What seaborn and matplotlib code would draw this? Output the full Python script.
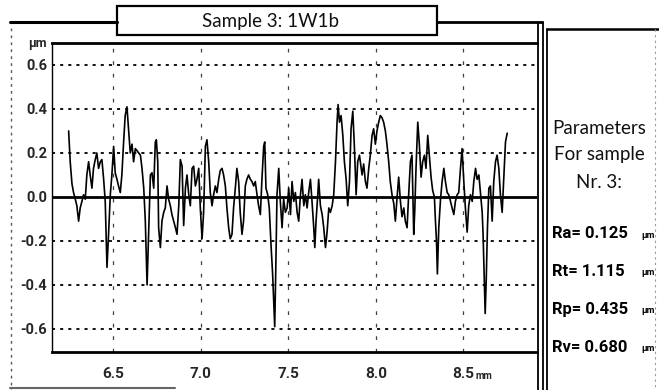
import matplotlib
matplotlib.use("Agg")

import numpy as np
import pandas as pd
import matplotlib.pyplot as plt
import seaborn as sns
from matplotlib.lines import Line2D
from matplotlib.patches import Rectangle

sns.set_style("white")
plt.rcParams["font.family"] = ["DejaVu Sans"]

# profile (x in mm, height in um)
profile_x_mm = [
    6.245, 6.254, 6.264, 6.273, 6.283, 6.292, 6.302, 6.311, 6.321, 6.330, 6.340, 6.349, 6.359, 6.368,
    6.378, 6.387, 6.397, 6.406, 6.416, 6.426, 6.435, 6.445, 6.454, 6.464, 6.473, 6.483, 6.492, 6.502,
    6.511, 6.521, 6.530, 6.540, 6.549, 6.559, 6.568, 6.578, 6.587, 6.597, 6.607, 6.616, 6.626,
    6.645, 6.655, 6.664, 6.674, 6.683, 6.693, 6.702, 6.712, 6.721, 6.731, 6.740, 6.746, 6.754, 6.759,
    6.769, 6.778, 6.788, 6.797, 6.807, 6.816, 6.826, 6.835, 6.845, 6.855, 6.864, 6.874, 6.883, 6.893,
    6.902, 6.912, 6.921, 6.931, 6.940, 6.950, 6.959, 6.969, 6.978, 6.988, 6.997, 7.007, 7.016, 7.026,
    7.035, 7.045, 7.054,
    7.064, 7.073, 7.083, 7.092, 7.102, 7.111, 7.121, 7.130, 7.140, 7.149, 7.159, 7.168, 7.178, 7.187,
    7.197, 7.206, 7.216, 7.225, 7.235, 7.244, 7.254, 7.263, 7.273, 7.283, 7.292, 7.302, 7.311, 7.321,
    7.330, 7.340, 7.349, 7.359, 7.365, 7.372, 7.382, 7.391, 7.401, 7.410, 7.416, 7.422, 7.427, 7.435,
    7.445, 7.454, 7.464, 7.473, 7.483,
    7.493, 7.502, 7.512, 7.521, 7.531, 7.540, 7.550, 7.559, 7.569, 7.578, 7.588, 7.597, 7.607, 7.616,
    7.626, 7.635, 7.645, 7.651, 7.658, 7.668, 7.673, 7.683, 7.693, 7.702, 7.712, 7.721, 7.731, 7.740,
    7.750, 7.759, 7.769, 7.778, 7.784, 7.792, 7.801, 7.811, 7.820, 7.830, 7.839, 7.849, 7.858, 7.868,
    7.877, 7.887, 7.896, 7.906,
    7.911, 7.921, 7.930, 7.940, 7.949, 7.959, 7.968, 7.978, 7.987, 7.997, 8.006, 8.016, 8.025, 8.035,
    8.044, 8.054, 8.063, 8.073, 8.082, 8.092, 8.102, 8.111, 8.121, 8.130, 8.140, 8.149, 8.159, 8.168,
    8.178, 8.187, 8.197, 8.206, 8.216, 8.222, 8.229, 8.239, 8.248, 8.258, 8.267, 8.277, 8.286, 8.296,
    8.305, 8.315, 8.324, 8.334,
    8.340, 8.346, 8.351, 8.359, 8.369, 8.378, 8.388, 8.397, 8.407, 8.416, 8.426, 8.435, 8.445, 8.454,
    8.464, 8.473, 8.483, 8.492, 8.502, 8.511, 8.521, 8.530, 8.540, 8.550, 8.559, 8.569, 8.578, 8.588,
    8.597, 8.607, 8.612, 8.618, 8.624, 8.630, 8.637, 8.645, 8.654, 8.664, 8.673, 8.683, 8.692, 8.702,
    8.711, 8.721, 8.730, 8.740, 8.750,
]
profile_z_um = [
    0.30, 0.16, 0.06, 0.02, -0.01, -0.04, -0.11, -0.05, -0.02, 0.01, -0.01, 0.10, 0.16, 0.10,
    0.04, 0.13, 0.17, 0.20, 0.13, 0.16, 0.17, 0.08, -0.02, -0.32, -0.17, 0.01, 0.10, 0.23,
    0.11, 0.08, 0.05, 0.02, 0.10, 0.25, 0.37, 0.41, 0.31, 0.20, 0.24, 0.16, 0.22,
    0.20, 0.19, 0.13, 0.04, -0.11, -0.40, -0.17, 0.10, 0.11, 0.04, 0.25, 0.26, 0.16, -0.14,
    -0.23, -0.11, -0.07, -0.05, 0.05, -0.01, -0.04, -0.08, -0.11, -0.14, -0.17, -0.04, 0.17, 0.14,
    -0.13, 0.04, 0.10, 0.01, -0.04, 0.13, 0.14, 0.05, 0.08, 0.13, -0.05, -0.19, -0.07, 0.23,
    0.26, 0.16, 0.02,
    -0.04, 0.01, 0.05, 0.02, 0.08, 0.12, 0.13, 0.10, 0.05, -0.05, -0.14, -0.19, -0.17, -0.05,
    0.04, 0.13, 0.07, -0.07, -0.17, -0.11, 0.05, 0.08, 0.10, 0.08, 0.07, 0.05, 0.07, 0.01,
    -0.04, -0.08, 0.08, 0.23, 0.25, 0.04, 0.01, -0.05, -0.22, -0.35, -0.47, -0.59, -0.38, 0.01,
    0.13, -0.02, -0.14, -0.01, -0.07,
    -0.05, 0.04, -0.08, 0.07, -0.02, 0.02, -0.07, -0.11, 0.01, 0.08, -0.04, 0.01, -0.05, 0.02,
    0.08, -0.02, -0.14, -0.23, -0.11, 0.01, 0.08, -0.04, -0.08, -0.14, -0.23, -0.16, -0.05, -0.07,
    -0.04, 0.01, 0.16, 0.34, 0.42, 0.34, 0.37, 0.28, 0.16, 0.08, -0.04, 0.07, 0.31, 0.39,
    0.23, 0.01, 0.16, 0.19,
    0.16, 0.10, 0.15, 0.07, 0.04, 0.13, 0.19, 0.28, 0.31, 0.24, 0.30, 0.34, 0.37, 0.36,
    0.34, 0.30, 0.24, 0.16, 0.07, 0.01, -0.03, -0.11, 0.00, 0.09, -0.02, -0.09, -0.05, -0.11,
    -0.14, 0.01, 0.16, 0.19, -0.17, -0.06, 0.13, 0.34, 0.24, 0.09, 0.16, 0.19, 0.13, 0.28,
    0.19, 0.09, 0.03, 0.00,
    -0.11, -0.20, -0.35, -0.14, -0.01, 0.07, 0.13, 0.07, 0.02, 0.01, -0.02, -0.05, -0.08, -0.02,
    0.01, 0.02, 0.13, 0.22, 0.07, -0.05, -0.16, -0.04, 0.01, -0.02, 0.07, 0.13, 0.08, 0.10,
    0.02, -0.07, -0.17, -0.35, -0.53, -0.38, -0.14, 0.04, 0.05, -0.11, 0.07, 0.16, 0.19, 0.13,
    0.01, -0.07, 0.08, 0.25, 0.29,
]

x_major = [6.5, 7.0, 7.5, 8.0, 8.5]
x_labels = ["6.5", "7.0", "7.5", "8.0", "8.5"]
y_major = [0.6, 0.4, 0.2, 0.0, -0.2, -0.4, -0.6]
y_labels = ["0.6", "0.4", "0.2", "0.0", "-0.2", "-0.4", "-0.6"]

title = "Sample 3: 1W1b"
param_names = ["Ra", "Rt", "Rp", "Rv"]
param_values = [0.125, 1.115, 0.435, 0.680]
side_lines = ["Parameters", "For sample", "Nr. 3:"]

W, H = 659, 390


def fp(x, y):
    # pixel position (from top-left) -> figure fraction
    return x / W, 1 - y / H


fig = plt.figure(figsize=(W / 100, H / 100), dpi=100)
fig.patch.set_facecolor("white")

ax = fig.add_axes([52 / W, 1 - 352 / H, 485 / W, 309 / H])
df = pd.DataFrame({"x": profile_x_mm, "z": profile_z_um})
sns.lineplot(data=df, x="x", y="z", ax=ax, color="black", linewidth=1.2,
             sort=False, estimator=None)

ax.set_xlim(6.15, 8.92)
ax.set_ylim(-0.705, 0.70)
ax.set_xlabel("")
ax.set_ylabel("")

# grid
for yv in y_major:
    if yv == 0:
        ax.axhline(0, color="black", lw=2.0, zorder=3)
    else:
        ax.axhline(yv, color="black", lw=1.3, linestyle=(0, (1.7, 2.8)), zorder=1)
for xv in x_major:
    ax.axvline(xv, color="0.25", lw=0.9, linestyle=(0, (3, 7)), zorder=1)

tickfont = ["Roboto", "DejaVu Sans"]
ax.set_xticks(x_major)
ax.set_xticklabels(x_labels, family=tickfont, fontsize=11, fontweight="bold")
ax.set_xticks(np.arange(6.2, 8.91, 0.1), minor=True)
ax.set_yticks(y_major)
ax.set_yticklabels(y_labels, family=tickfont, fontsize=10.5, fontweight="bold")
ax.set_yticks(np.arange(-0.7, 0.71, 0.1), minor=True)
ax.tick_params(axis="x", which="both", direction="inout", length=8, width=1.1, pad=6)
ax.tick_params(axis="y", which="both", direction="inout", length=5, width=1.0, pad=1)
ax.tick_params(axis="x", which="major", length=10)

ax.spines["right"].set_visible(False)
ax.spines["top"].set_linewidth(2.0)
ax.spines["bottom"].set_linewidth(2.0)
ax.spines["left"].set_linewidth(1.0)
for s in ax.spines.values():
    s.set_color("black")

fig.text(*fp(476, 376), "mm", family=tickfont, fontsize=7, fontweight="bold",
         ha="left", va="center")
ax.text(-0.012, 1.0, "µm", family=tickfont, fontsize=9, fontweight="bold",
        ha="right", va="center", transform=ax.transAxes)

# frame lines around the plot
def fline(x0, y0, x1, y1, lw=1.5, color="black", ls="-"):
    a, b = fp(x0, y0)
    c, d = fp(x1, y1)
    fig.add_artist(Line2D([a, c], [b, d], lw=lw, color=color, linestyle=ls))

fline(10, 21.5, 117, 21.5, lw=2.2)
fline(437, 22, 542, 22, lw=2.0)
fline(537.5, 22, 537.5, 390, lw=1.3)
fline(542.5, 22, 542.5, 390, lw=1.3)
fline(547, 29, 659, 29, lw=1.8)
fline(547, 29, 547, 390, lw=1.3)
fline(11, 28, 11, 390, lw=1.0, color="0.35", ls=(0, (2, 3)))
fline(655, 29, 655, 390, lw=0.8, color="0.6", ls=(0, (2, 3)))
fline(10, 388, 175, 388, lw=1.5, color="0.4")

x0, y0 = fp(117, 35)
x1, y1 = fp(437, 6)
fig.add_artist(Rectangle((x0, y0), x1 - x0, y1 - y0, transform=fig.transFigure,
                         facecolor="white", edgecolor="black", lw=1.6))
fig.text(*fp(271, 21), title, ha="center", va="center", fontsize=13.5,
         family=["Lato", "DejaVu Sans"], color="#111111")

for i, line in enumerate(side_lines):
    fig.text(*fp(599, 128 + 27 * i), line, ha="center", va="center", fontsize=13.5,
             family=["Lato", "DejaVu Sans"], color="#111111")

for i, (name, val) in enumerate(zip(param_names, param_values)):
    yy = 234 + 37.7 * i
    fig.text(*fp(552, yy), f"{name}= {val:.3f}", ha="left", va="center", fontsize=12,
             family=tickfont, fontweight="bold", color="black")
    fig.text(*fp(641, yy + 1), "µm", ha="left", va="center", fontsize=6.5,
             family=tickfont, fontweight="bold", color="black")

fig.savefig("out.png", dpi=100)
plt.close(fig)
